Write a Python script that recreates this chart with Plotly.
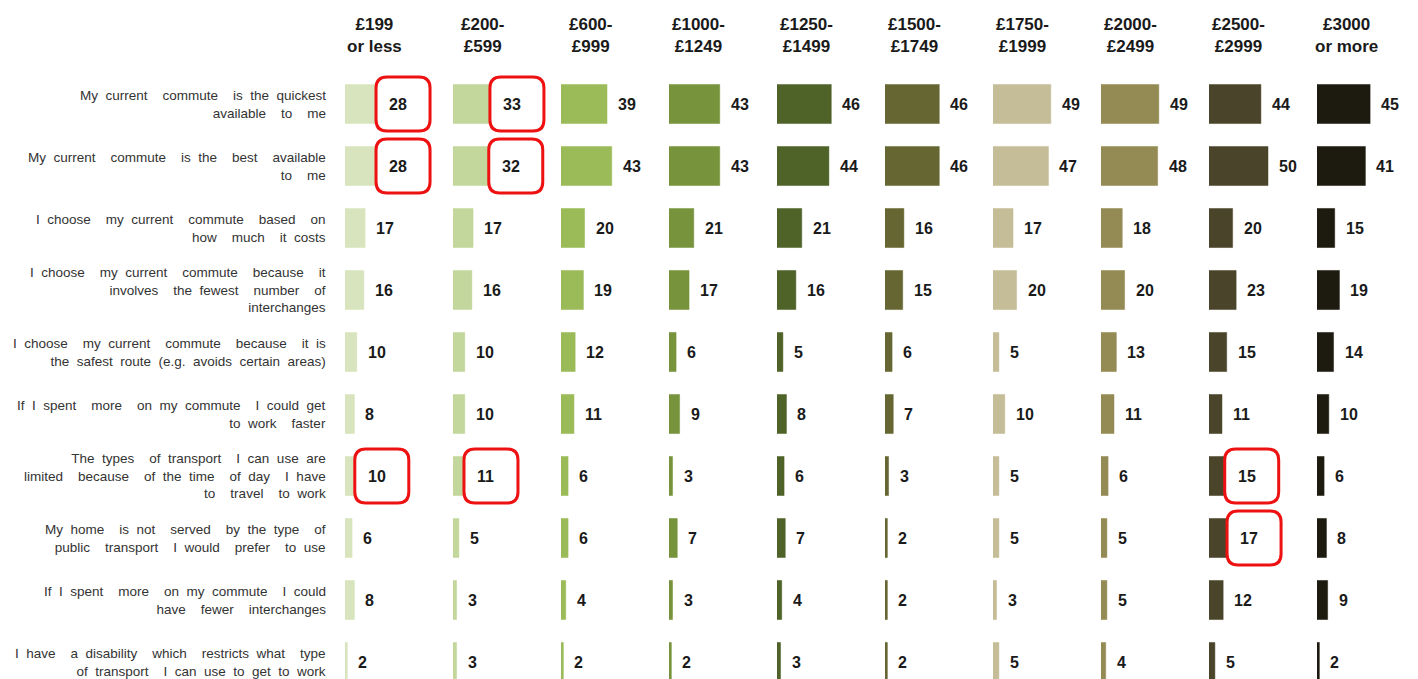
import plotly.graph_objects as go

bands = ["£199<br>or less", "£200-<br>£599", "£600-<br>£999", "£1000-<br>£1249", "£1250-<br>£1499",
         "£1500-<br>£1749", "£1750-<br>£1999", "£2000-<br>£2499", "£2500-<br>£2999", "£3000<br>or more"]

statements = [
    "My current  commute  is the quickest<br>available  to  me",
    "My current  commute  is the  best  available<br>to  me",
    "I choose  my current  commute  based  on<br>how  much  it costs",
    "I choose  my current  commute  because  it<br>involves  the fewest  number  of<br>interchanges",
    "I choose  my current  commute  because  it is<br>the safest route (e.g. avoids certain areas)",
    "If I spent  more  on my commute  I could get<br>to work  faster",
    "The types  of transport  I can use are<br>limited  because  of the time  of day  I have<br>to  travel  to work",
    "My home  is not  served  by the type  of<br>public  transport  I would  prefer  to use",
    "If I spent  more  on my commute  I could<br>have  fewer  interchanges",
    "I have  a disability  which  restricts what  type<br>of transport  I can use to get to work",
]

# values[band] = list over statements
v_199 = [28, 28, 17, 16, 10, 8, 10, 6, 8, 2]
v_200 = [33, 32, 17, 16, 10, 10, 11, 5, 3, 3]
v_600 = [39, 43, 20, 19, 12, 11, 6, 6, 4, 2]
v_1000 = [43, 43, 21, 17, 6, 9, 3, 7, 3, 2]
v_1250 = [46, 44, 21, 16, 5, 8, 6, 7, 4, 3]
v_1500 = [46, 46, 16, 15, 6, 7, 3, 2, 2, 2]
v_1750 = [49, 47, 17, 20, 5, 10, 5, 5, 3, 5]
v_2000 = [49, 48, 18, 20, 13, 11, 6, 5, 5, 4]
v_2500 = [44, 50, 20, 23, 15, 11, 15, 17, 12, 5]
v_3000 = [45, 41, 15, 19, 14, 10, 6, 8, 9, 2]
values = [v_199, v_200, v_600, v_1000, v_1250, v_1500, v_1750, v_2000, v_2500, v_3000]

colors = ["#d7e4bd", "#c3d69b", "#9bbb59", "#77933c", "#4f6228",
          "#666633", "#c4bd97", "#948a54", "#4a452a", "#1d1b10"]

# highlighted cells: (statement index, band index)
highlights = [(0, 0), (0, 1), (1, 0), (1, 1), (6, 0), (6, 1), (6, 8), (7, 8)]

W, H = 1418, 679
ML = 345
PW = W - ML
COL_STEP = 108
COL_W = 100
PX_PER_UNIT = 1.18

fig = go.Figure()
layout = dict(
    width=W, height=H, margin=dict(l=ML, r=0, t=0, b=0),
    plot_bgcolor="white", paper_bgcolor="white", showlegend=False,
    font=dict(family="Liberation Sans, Arial, sans-serif"),
)

ypx0 = 104
row_step = 62
y_top = -ypx0 / row_step
y_bot = (len(statements) - 1) + (H - (ypx0 + row_step * (len(statements) - 1))) / row_step

annotations = []
shapes = []
for c, (band, vals, col) in enumerate(zip(bands, values, colors)):
    xa = "x" if c == 0 else f"x{c+1}"
    key = "xaxis" if c == 0 else f"xaxis{c+1}"
    d0 = c * COL_STEP / PW
    d1 = (c * COL_STEP + COL_W) / PW
    layout[key] = dict(domain=[d0, min(d1, 1)], range=[0, COL_W / PX_PER_UNIT],
                       visible=False, fixedrange=True)
    fig.add_trace(go.Bar(
        x=vals, y=list(range(len(statements))), orientation="h",
        marker=dict(color=col, line=dict(color=col, width=0.5)),
        width=0.63, xaxis=xa, yaxis="y", hoverinfo="skip",
    ))
    annotations.append(dict(
        x=29 / PX_PER_UNIT, y=y_top + 35 / row_step, xref=xa, yref="y",
        text=f"<b>{band}</b>", showarrow=False, xanchor="center", yanchor="middle",
        font=dict(size=17, color="#1a1a1a", family="Liberation Sans, Arial, sans-serif"),
        align="center",
    ))
    for r, v in enumerate(vals):
        annotations.append(dict(
            x=v, y=r, xref=xa, yref="y", text=f"<b>{v}</b>", showarrow=False,
            xanchor="left", yanchor="middle", xshift=9,
            font=dict(size=16, color="#1a1a1a", family="Liberation Sans, Arial, sans-serif"),
        ))

for (r, c) in highlights:
    xa = "x" if c == 0 else f"x{c+1}"
    x0, x1, y0, y1, rr = -2, 52, -27, 27, 11
    path = (f"M {x0+rr},{y0} L {x1-rr},{y0} Q {x1},{y0} {x1},{y0+rr} "
            f"L {x1},{y1-rr} Q {x1},{y1} {x1-rr},{y1} L {x0+rr},{y1} "
            f"Q {x0},{y1} {x0},{y1-rr} L {x0},{y0+rr} Q {x0},{y0} {x0+rr},{y0} Z")
    shapes.append(dict(
        type="path", xref=xa, yref="y", xsizemode="pixel", ysizemode="pixel",
        xanchor=values[c][r], yanchor=r, path=path,
        line=dict(color="#ee1111", width=3), fillcolor="white", layer="above",
    ))

for r, s in enumerate(statements):
    spaced = s.replace(" ", "\u00a0 ")
    annotations.append(dict(
        x=-17 / PW, y=r, xref="paper", yref="y", text=spaced, showarrow=False,
        xanchor="right", yanchor="middle", align="right",
        font=dict(size=13.5, color="#333333", family="Liberation Sans, Arial, sans-serif"),
    ))

layout["yaxis"] = dict(range=[y_bot, y_top], visible=False, fixedrange=True)
layout["annotations"] = annotations
layout["shapes"] = shapes
fig.update_layout(**layout)

fig.write_html("out.html")
